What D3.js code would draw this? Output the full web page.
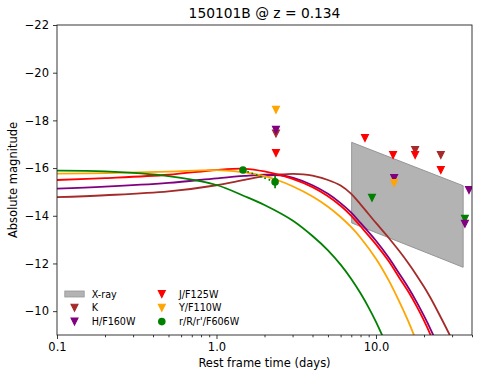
<!DOCTYPE html>
<meta charset="utf-8"/>
<html>
<head>
<script src="https://d3js.org/d3.v7.min.js"></script>
<style>
 * { padding: 0; margin: 0; }
 body { background: #fff; font-family: "DejaVu Sans", sans-serif; }
 .tick text { font-family: "DejaVu Sans", sans-serif; }
</style>
</head>
<body>
<div id="chart"></div>
<script>
// model light curves: rest frame time (days) / absolute magnitude
const kCurveT = [0.1, 0.2, 0.5, 1, 1.5, 2, 2.5, 3, 3.5, 4, 5, 6, 7, 8, 10, 12, 14, 16, 18, 20, 22, 25, 30, 33];
const kCurveM = [-14.78, -14.86, -15.02, -15.28, -15.51, -15.66, -15.73, -15.76, -15.74, -15.68, -15.50, -15.27, -14.92, -14.48, -13.7, -13.08, -12.52, -12.0, -11.5, -11.02, -10.55, -9.85, -8.8, -8.2];
const hCurveT = [0.1, 0.2, 0.5, 1, 1.5, 2, 2.5, 3, 4, 5, 6, 7, 8, 10, 12, 14, 16, 18, 20, 22, 24];
const hCurveM = [-15.14, -15.22, -15.38, -15.57, -15.67, -15.72, -15.7, -15.6, -15.28, -14.92, -14.53, -14.13, -13.7, -12.95, -12.25, -11.57, -10.97, -10.38, -9.8, -9.24, -8.68];
const jCurveT = [0.1, 0.2, 0.5, 1, 1.5, 2, 3, 4, 5, 6, 7, 8, 10, 12, 14, 16, 18, 20, 22, 24];
const jCurveM = [-15.50, -15.58, -15.72, -15.92, -15.97, -15.86, -15.55, -15.2, -14.82, -14.42, -14.0, -13.56, -12.8, -12.1, -11.4, -10.8, -10.2, -9.6, -9.0, -8.4];
const yCurveT = [0.1, 0.2, 0.5, 1, 1.5, 2, 2.4, 3, 4, 5, 6, 7, 8, 10, 12, 14, 16, 18, 20];
const yCurveM = [-15.77, -15.79, -15.85, -15.91, -15.82, -15.66, -15.5, -15.24, -14.81, -14.38, -13.95, -13.52, -13.08, -12.2, -11.3, -10.4, -9.55, -8.7, -7.85];
const rCurveT = [0.1, 0.2, 0.5, 1, 1.5, 2, 3, 4, 5, 6, 7, 8, 9, 10, 11, 12];
const rCurveM = [-15.89, -15.86, -15.66, -15.29, -14.82, -14.45, -13.8, -13.15, -12.55, -11.95, -11.35, -10.75, -10.15, -9.55, -8.95, -8.35];

// upper limits (triangles)
const kLimT = [2.36, 17.6, 25.5];
const kLimM = [-17.45, -16.76, -16.55];
const hLimT = [2.36, 13.0, 38.3, 36.1];
const hLimM = [-17.6, -15.58, -15.08, -13.66];
const jLimT = [2.36, 8.53, 12.8, 17.6, 25.5];
const jLimM = [-16.63, -17.26, -16.55, -16.55, -15.92];
const yLimT = [2.36, 13.0];
const yLimM = [-18.44, -15.37];
const rLimT = [9.44, 36.1];
const rLimM = [-14.75, -13.87];

// r-band detections
const rDetT = [1.466, 2.33];
const rDetM = [-15.92, -15.42];
const rDetErr = [0.1, 0.27];

// X-ray region
const xrayT = [7.04, 35.2, 35.2, 7.04];
const xrayM = [-17.08, -15.26, -11.84, -13.70];

const xMajor = [0.1, 1, 10];
const xMajorLabels = ["0.1", "1.0", "10.0"];
const xMinor = [0.2, 0.3, 0.4, 0.5, 0.6, 0.7, 0.8, 0.9, 2, 3, 4, 5, 6, 7, 8, 9, 20, 30, 40];
const yTicks = [-22, -20, -18, -16, -14, -12, -10];

const colK = "#a52a2a", colH = "#800080", colJ = "#ff0000", colY = "#ffa500", colR = "#008000";

const legendLabels = ["X-ray", "K", "H/F160W", "J/F125W", "Y/F110W", "r/R/r'/F606W"];
const legendColors = ["#b3b3b3", colK, colH, colJ, colY, colR];
const legendShapes = ["patch", "tri", "tri", "tri", "tri", "circle"];

var width = 485, height = 379;
var margin = {left: 57, top: 25, right: 13, bottom: 44};

var svg = d3.select("#chart").append("svg")
    .attr("width", width).attr("height", height);

var x = d3.scaleLog().domain([0.1, 40]).range([margin.left, width - margin.right]);
var y = d3.scaleLinear().domain([-22, -9]).range([margin.top, height - margin.bottom]);

svg.append("clipPath").attr("id", "clip").append("rect")
    .attr("x", margin.left).attr("y", margin.top)
    .attr("width", width - margin.left - margin.right)
    .attr("height", height - margin.top - margin.bottom);

var plot = svg.append("g").attr("clip-path", "url(#clip)");

// x-ray polygon
plot.append("path")
    .attr("d", d3.line()(xrayT.map((t, i) => [x(t), y(xrayM[i])])) + "Z")
    .attr("fill", "#b3b3b3").attr("stroke", "#969696").attr("stroke-width", 1);

// model curves
var line = d3.line().curve(d3.curveCatmullRom.alpha(0.5));
[[kCurveT, kCurveM, colK], [hCurveT, hCurveM, colH], [jCurveT, jCurveM, colJ],
 [yCurveT, yCurveM, colY], [rCurveT, rCurveM, colR]].forEach(function(c) {
    plot.append("path")
        .attr("d", line(c[0].map((t, i) => [x(t), y(c[1][i])])))
        .attr("fill", "none").attr("stroke", c[2]).attr("stroke-width", 1.8);
});

function tri(cx, cy, h) {
    return "M" + (cx - h) + "," + (cy - h) + "L" + (cx + h) + "," + (cy - h) + "L" + cx + "," + (cy + h) + "Z";
}

// upper limits
[[rLimT, rLimM, colR], [kLimT, kLimM, colK], [hLimT, hLimM, colH],
 [jLimT, jLimM, colJ], [yLimT, yLimM, colY]].forEach(function(s) {
    s[0].forEach(function(t, i) {
        plot.append("path").attr("d", tri(x(t), y(s[1][i]), 3.5))
            .attr("fill", s[2]).attr("stroke", s[2]).attr("stroke-width", 1.1);
    });
});

// r detections: dotted link, error bars, circles
plot.append("path")
    .attr("d", d3.line()(rDetT.map((t, i) => [x(t), y(rDetM[i])])))
    .attr("fill", "none").attr("stroke", colR).attr("stroke-width", 1.7)
    .attr("stroke-dasharray", "1.7,2.85");
rDetT.forEach(function(t, i) {
    plot.append("line")
        .attr("x1", x(t)).attr("x2", x(t))
        .attr("y1", y(rDetM[i] - rDetErr[i])).attr("y2", y(rDetM[i] + rDetErr[i]))
        .attr("stroke", colR).attr("stroke-width", 1.7);
    plot.append("circle").attr("cx", x(t)).attr("cy", y(rDetM[i])).attr("r", 3.8)
        .attr("fill", colR);
});

// axes
svg.append("g").attr("transform", "translate(0," + (height - margin.bottom) + ")")
    .call(d3.axisBottom(x).tickValues(xMajor).tickFormat((d, i) => xMajorLabels[i]).tickSize(4).tickPadding(4));
svg.append("g").attr("transform", "translate(0," + (height - margin.bottom) + ")")
    .call(d3.axisBottom(x).tickValues(xMinor).tickFormat("").tickSize(2.3));
svg.append("g").attr("transform", "translate(" + margin.left + ",0)")
    .call(d3.axisLeft(y).tickValues(yTicks).tickFormat(d3.format("d")).tickSize(4).tickPadding(4));

svg.selectAll(".domain").remove();
svg.selectAll(".tick line").attr("stroke", "#222").attr("stroke-width", 0.9);
svg.selectAll(".tick text").attr("font-size", "11.5px").attr("fill", "#000");

// frame
svg.append("rect")
    .attr("x", margin.left).attr("y", margin.top)
    .attr("width", width - margin.left - margin.right)
    .attr("height", height - margin.top - margin.bottom)
    .attr("fill", "none").attr("stroke", "#222").attr("stroke-width", 0.9);

// labels
svg.append("text").attr("x", (margin.left + width - margin.right) / 2).attr("y", 17.5)
    .attr("text-anchor", "middle").attr("font-size", "13.8px")
    .text("150101B @ z = 0.134");
svg.append("text").attr("x", (margin.left + width - margin.right) / 2).attr("y", 366.5)
    .attr("text-anchor", "middle").attr("font-size", "11.5px")
    .text("Rest frame time (days)");
svg.append("text").attr("transform", "translate(17," + ((margin.top + height - margin.bottom) / 2) + ") rotate(-90)")
    .attr("text-anchor", "middle").attr("font-size", "11.5px")
    .text("Absolute magnitude");

// legend
var legend = svg.append("g");
legendLabels.forEach(function(lab, i) {
    var col = Math.floor(i / 3), row = i % 3;
    var hx = 74.5 + col * 87.3, hy = 294 + row * 13.8;
    if (legendShapes[i] === "patch") {
        legend.append("rect").attr("x", hx - 9.7).attr("y", hy - 3).attr("width", 19.4).attr("height", 6)
            .attr("fill", legendColors[i]).attr("stroke", "#969696").attr("stroke-width", 0.8);
    } else if (legendShapes[i] === "tri") {
        legend.append("path").attr("d", tri(hx, hy, 3.5))
            .attr("fill", legendColors[i]).attr("stroke", legendColors[i]).attr("stroke-width", 1.1);
    } else {
        legend.append("circle").attr("cx", hx).attr("cy", hy).attr("r", 3.8).attr("fill", legendColors[i]);
    }
    legend.append("text").attr("x", hx + 17.2).attr("y", hy + 3.5)
        .attr("font-size", "9.6px").text(lab);
});
</script>
</body>
</html>
